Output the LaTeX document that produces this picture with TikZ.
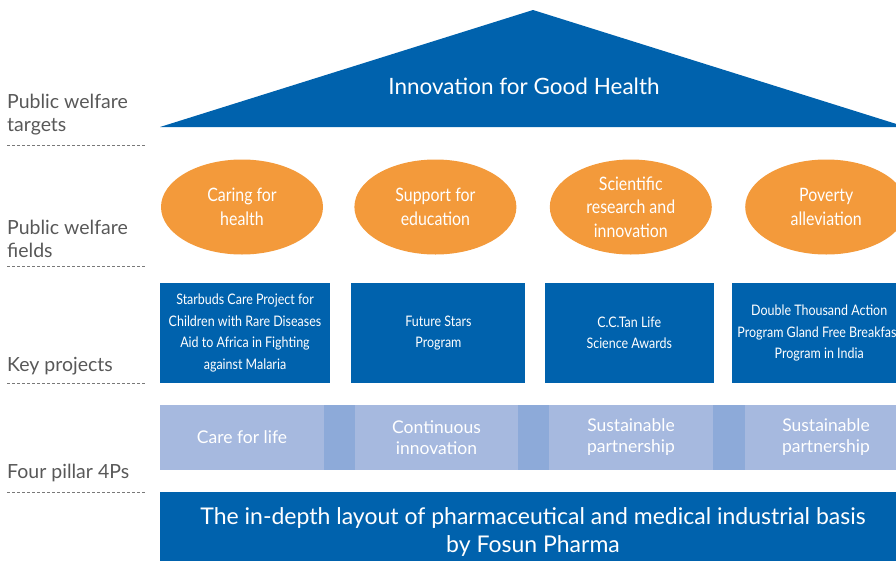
\documentclass[tikz,border=0pt]{standalone}
\usepackage{fontspec}
\setmainfont{Lato}
\newfontfamily\condfont[FakeStretch=0.86]{Lato}
\usetikzlibrary{positioning,shapes.geometric}
\definecolor{fosunblue}{RGB}{0,98,173}
\definecolor{fieldorange}{RGB}{243,154,59}
\definecolor{pillarlight}{RGB}{166,185,223}
\definecolor{pillardark}{RGB}{141,170,217}
\definecolor{sidegray}{RGB}{88,88,88}

\begin{document}
\begin{tikzpicture}[
  x=1pt,y=-1pt,
  side/.style={anchor=west,align=left,text=sidegray,inner sep=0pt,
    font=\fontsize{19.5}{23}\selectfont},
  sep/.style={draw=sidegray!80,dash pattern=on 3pt off 2pt,line width=0.8pt},
  field/.style={ellipse,fill=fieldorange,text=white,minimum width=162pt,
    minimum height=95pt,inner sep=0pt,align=center,
    font=\condfont\fontsize{18.5}{23.5}\selectfont},
  proj/.style={fill=fosunblue,text=white,minimum height=100pt,inner sep=0pt,
    align=center,font=\condfont\fontsize{14.5}{21.5}\selectfont},
  pillar/.style={fill=pillarlight,text=white,minimum height=65pt,inner sep=0pt,
    align=center,font=\fontsize{17.5}{21}\selectfont}
]
\useasboundingbox (0,0) rectangle (896,560);

% roof
\fill[fosunblue] (160,127) -- (533,10) -- (906,127) -- cycle;
\node[text=white,font=\fontsize{22.5}{26}\selectfont] (goal) at (524,86) {Innovation for Good Health};

% level labels on the left
\node[side] (targets) at (7,115) {Public welfare\\targets};
\node[side] (fields) at (7,239) {Public welfare\\fields};
\node[side] (keyproj) at (7,366) {Key projects};
\node[side] (fourp) at (7,473) {Four pillar 4Ps};
\draw[sep] (7,145) -- (145,145);
\draw[sep] (7,266) -- (145,266);
\draw[sep] (7,383) -- (145,383);
\draw[sep] (7,492) -- (145,492);

% welfare fields
\node[field] (care) at (242,207) {Caring for\\health};
\node[field,right=31pt of care] (edu) {Support for\\education};
\node[field,right=33pt of edu] (sci) {Scientific\\research and\\innovation};
\node[field,right=33pt of sci] (poverty) {Poverty\\alleviation};

% key projects
\node[proj,minimum width=170pt] (starbuds) at (245,333)
  {Starbuds Care Project for\\Children with Rare Diseases\\Aid to Africa in Fighting\\against Malaria};
\node[proj,minimum width=174pt,right=21pt of starbuds] (stars) {Future Stars\\Program};
\node[proj,minimum width=169pt,right=19pt of stars] (cctan) {C.C.Tan Life\\Science Awards};
\node[proj,minimum width=174pt,right=18pt of cctan] (double)
  {Double Thousand Action\\Program Gland Free Breakfast\\Program in India};

% four pillars
\node[fill=pillardark,minimum width=746pt,minimum height=65pt,inner sep=0pt] (band) at (533,437.5) {};
\node[pillar,minimum width=164pt] (life) at (242,437.5) {Care for life};
\node[pillar,minimum width=163pt] (innov) at (436.5,437.5) {Continuous\\innovation};
\node[pillar,minimum width=164pt] (partner) at (631,437.5) {Sustainable\\partnership};
\node[pillar,minimum width=162pt] (partnerb) at (826,437.5) {Sustainable\\partnership};

% foundation
\node[fill=fosunblue,text=white,minimum width=746pt,minimum height=80pt,inner sep=0pt,
  align=center,font=\fontsize{23}{28}\selectfont] (basis) at (533,532)
  {The in-depth layout of pharmaceutical and medical industrial basis\\by Fosun Pharma};
\end{tikzpicture}
\end{document}
